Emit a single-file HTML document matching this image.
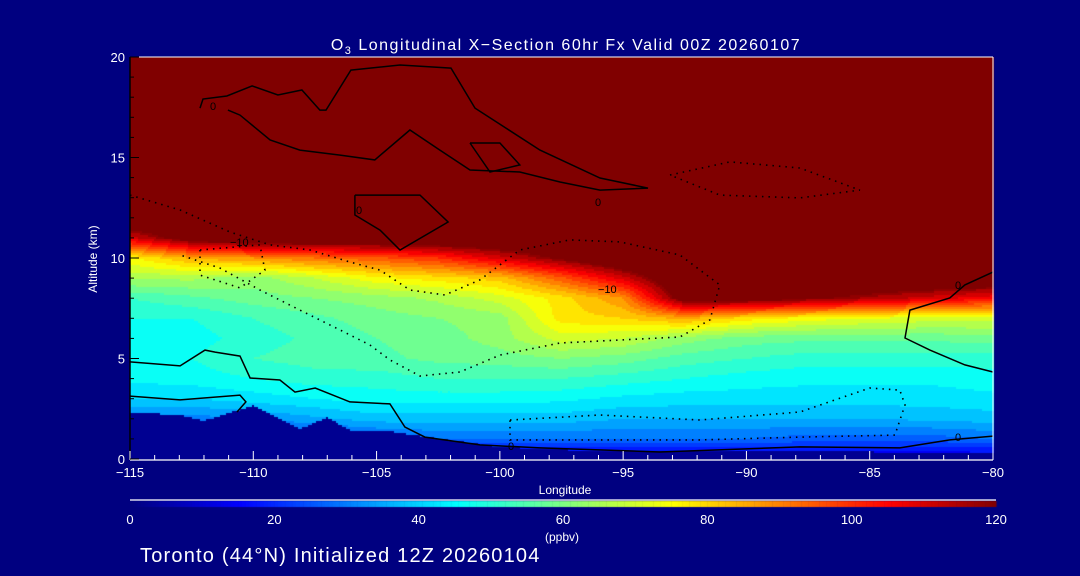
<!DOCTYPE html>
<html><head><meta charset="utf-8"><style>
html,body{margin:0;padding:0;background:#000080;}
#wrap{position:relative;width:1080px;height:576px;background:#000080;overflow:hidden;font-family:"Liberation Sans",sans-serif;color:#fff;}
canvas{position:absolute;left:0;top:0;}
svg{position:absolute;left:0;top:0;}
</style></head><body>
<div id="wrap">
<canvas id="cv" width="1080" height="576"></canvas>
<svg id="sv" width="1080" height="576"></svg>
</div>
<script>
// ---- data ----
const lons = [-115,-112.5,-110,-107.5,-105,-102.5,-100,-97.5,-95,-92.5,-90,-87.5,-85,-82.5,-80];
const alts = [0,1,2,3,4,5,6,7,8,9,10,11,12,13,20];
const row0  = [10,10,10,10,10,10,10,10,10,10,10,10,10,10,10];
const row1  = [20,20,20,22,25,28,28,28,28,28,28,26,26,26,28];
const row2  = [30,30,32,35,38,38,38,38,36,36,36,36,36,37,38];
const row3  = [40,40,42,44,46,46,46,45,43,42,42,42,42,42,43];
const row4  = [45,46,48,50,50,52,52,52,50,48,46,45,45,45,46];
const row5  = [47,48,52,54,55,57,58,60,58,54,52,50,50,50,50];
const row6  = [46,46,50,53,56,58,62,70,68,62,58,57,57,57,58];
const row7  = [48,48,52,55,58,60,62,78,80,85,78,74,72,70,70];
const row8  = [52,55,58,60,62,65,70,78,88,125,125,120,115,110,105];
const row9  = [65,65,62,68,75,78,82,95,110,130,130,130,130,130,130];
const row10 = [75,85,88,92,95,100,110,120,130,130,130,130,130,130,130];
const row11 = [110,125,130,130,130,130,130,130,130,130,130,130,130,130,130];
const row12 = [130,130,130,130,130,130,130,130,130,130,130,130,130,130,130];
const row13 = [130,130,130,130,130,130,130,130,130,130,130,130,130,130,130];
const row20 = [130,130,130,130,130,130,130,130,130,130,130,130,130,130,130];
const grid = [row0,row1,row2,row3,row4,row5,row6,row7,row8,row9,row10,row11,row12,row13,row20];
const terrainLon = [-115,-113,-112,-110,-108.1,-107,-106,-104.6,-103,-100,-97.6,-90,-85,-80];
const terrainAlt = [2.3,2.2,1.9,2.65,1.5,2.05,1.4,1.4,1.1,0.6,0.45,0.4,0.35,0.3];
const xTicks = [-115,-110,-105,-100,-95,-90,-85,-80];
const yTicks = [0,5,10,15,20];
const cbTicks = [0,20,40,60,80,100,120];
// contours (lon, alt)
const solid1Lon = [-112.16,-112.04,-111.07,-110.05,-109.0,-108.03,-107.30,-107.05,-106.04,-104.05,-101.98,-101.01,-98.37,-95.94,-93.99,-95.94,-97.56,-99.19,-101.21,-102.43,-103.65,-105.07,-106.48,-108.11,-109.32,-110.54,-111.03];
const solid1Alt = [17.46,17.91,18.06,18.56,18.11,18.36,17.36,17.36,19.35,19.60,19.45,17.46,15.37,13.98,13.48,13.38,13.78,14.28,14.38,15.37,16.37,14.88,15.12,15.37,15.87,17.11,17.36];
const solid2Lon = [-101.21,-100.0,-99.19,-100.40,-101.21];
const solid2Alt = [15.72,15.72,14.63,14.28,15.72];
const solid3Lon = [-105.88,-103.24,-102.10,-104.05,-104.86,-105.88,-105.88];
const solid3Alt = [13.13,13.13,11.79,10.40,11.39,12.14,13.13];
const solid4Lon = [-115,-112.97,-111.96,-111.55,-110.54,-110.13,-108.92,-108.31,-107.49,-106.08,-104.46,-103.85,-103.04,-100.81,-98.37,-93.51,-87.83,-83.78,-81.75,-80];
const solid4Alt = [4.83,4.63,5.42,5.32,5.12,4.03,3.93,3.33,3.53,2.84,2.74,1.59,1.09,0.70,0.55,0.35,0.60,0.55,0.95,1.14];
const solid5Lon = [-115,-112.97,-110.54,-110.30,-110.66];
const solid5Alt = [3.13,2.94,3.18,2.84,2.34];
const solid6Lon = [-80,-81.14,-81.75,-83.37,-83.57,-82.56,-81.14,-80];
const solid6Alt = [9.30,8.66,8.01,7.41,6.02,5.42,4.68,4.33];
const dot1Lon = [-115,-112.97,-110.94,-109.32,-107.70,-106.08,-104.86,-103.65,-102.23,-100.81,-99.19,-97.16,-95.13,-92.70,-91.08,-91.48,-92.70,-95.13,-97.56,-100.0,-101.62,-103.24,-104.46,-105.27,-106.48,-108.11,-109.73,-111.35,-112.97];
const dot1Alt = [13.13,12.39,11.29,10.65,10.40,9.80,9.40,8.41,8.16,8.91,10.40,10.90,10.80,10.15,8.66,6.92,6.07,5.92,5.77,5.17,4.33,4.13,4.93,5.67,6.42,7.41,8.41,9.50,10.15];
const dot2Lon = [-112.16,-109.73,-109.53,-110.54,-112.16,-112.16];
const dot2Alt = [10.40,10.65,9.40,8.51,9.15,10.40];
const dot3Lon = [-93.10,-90.67,-87.83,-85.40,-87.83,-91.08,-93.10];
const dot3Alt = [14.13,14.78,14.48,13.38,12.99,13.13,14.13];
const dot4Lon = [-99.59,-95.94,-91.89,-87.83,-85.0,-83.78,-83.57,-83.98,-87.83,-91.89,-95.94,-99.59,-99.59];
const dot4Alt = [1.94,2.19,1.94,2.34,3.53,3.43,2.69,1.19,1.09,0.95,0.95,0.95,1.94];

// ---- scales ----
const X0=130,X1=993,Y0=459,Y1=57;
function xS(lon){return X0+(lon+115)/35*(X1-X0);}
function yS(a){return Y0-a/20*(Y0-Y1);}
function cbX(v){return 130+v/120*(996-130);}
function jet(t){
  t=Math.max(0,Math.min(1,t));
  function c(x){return Math.max(0,Math.min(1,x));}
  const r=c(Math.min(4*t-1.5,-4*t+4.5)), g=c(Math.min(4*t-0.5,-4*t+3.5)), b=c(Math.min(4*t+0.5,-4*t+2.5));
  return 'rgb('+Math.round(r*255)+','+Math.round(g*255)+','+Math.round(b*255)+')';
}
function colorFor(v){const q=Math.min(120,Math.floor(v/4)*4+2);return v>=118?jet(1):jet(q/120);}
function interp1(xs,ys,x){
  if(x<=xs[0])return ys[0];
  for(let i=1;i<xs.length;i++){if(x<=xs[i]){const f=(x-xs[i-1])/(xs[i]-xs[i-1]);return ys[i-1]+f*(ys[i]-ys[i-1]);}}
  return ys[ys.length-1];
}
function idx(arr,v){let i=0;while(i<arr.length-2&&v>arr[i+1])i++;const f=Math.max(0,Math.min(1,(v-arr[i])/(arr[i+1]-arr[i])));return [i,f];}
function field(lon,alt){
  const [i,fx]=idx(lons,lon),[j,fy]=idx(alts,alt);
  const a=grid[j][i]*(1-fx)+grid[j][i+1]*fx, b=grid[j+1][i]*(1-fx)+grid[j+1][i+1]*fx;
  return a*(1-fy)+b*fy;
}
// ---- heatmap ----
const ctx=document.getElementById('cv').getContext('2d');
const step=2;
for(let px=X0;px<X1;px+=step){
  const lon=-115+(px+step/2-X0)/(X1-X0)*35;
  const ter=interp1(terrainLon,terrainAlt,lon);
  for(let py=Y1;py<Y0;py+=step){
    const alt=(Y0-(py+step/2))/(Y0-Y1)*20;
    const v = alt<ter ? 0 : field(lon,alt);
    ctx.fillStyle=colorFor(v);
    ctx.fillRect(px,py,step,step);
  }
}
// colorbar
for(let v=0;v<120;v+=0.5){ctx.fillStyle=jet(v/120);ctx.fillRect(cbX(v),501,cbX(v+0.5)-cbX(v)+0.5,6);}

// ---- SVG overlay ----
const NS='http://www.w3.org/2000/svg';
const sv=document.getElementById('sv');
function mk(tag,attrs,parent){const e=document.createElementNS(NS,tag);for(const k in attrs)e.setAttribute(k,attrs[k]);(parent||sv).appendChild(e);return e;}
function contour(lx,ly,dotted,name){
  const pts=lx.map((l,i)=>xS(l).toFixed(1)+','+yS(ly[i]).toFixed(1)).join(' ');
  const p=mk('polyline',{points:pts,fill:'none',stroke:'#000','stroke-width':dotted?1.6:1.5,'stroke-dasharray':dotted?'1.5,5':'none'});
  
  
}
contour(solid1Lon,solid1Alt,false,'contour-0-upper');
contour(solid2Lon,solid2Alt,false,'contour-0-loop-a');
contour(solid3Lon,solid3Alt,false,'contour-0-loop-b');
contour(solid4Lon,solid4Alt,false,'contour-0-lower');
contour(solid5Lon,solid5Alt,false,'contour-0-terrain');
contour(solid6Lon,solid6Alt,false,'contour-0-right');
contour(dot1Lon,dot1Alt,true,'contour-neg10-main');
contour(dot2Lon,dot2Alt,true,'contour-neg10-left');
contour(dot3Lon,dot3Alt,true,'contour-neg-upper-right');
contour(dot4Lon,dot4Alt,true,'contour-neg-lower');
function txt(x,y,s,attrs,name){const t=mk('text',Object.assign({x:x,y:y,fill:'#fff','font-family':'Liberation Sans, sans-serif','font-size':13},attrs||{}));t.textContent=s;return t;}
// contour labels
txt(210,110,'0',{fill:'#000','font-size':11},'contour-label');
txt(595,206,'0',{fill:'#000','font-size':11},'contour-label');
txt(356,214,'0',{fill:'#000','font-size':11},'contour-label');
txt(230,246,'−10',{fill:'#000','font-size':11},'contour-label');
txt(598,293,'−10',{fill:'#000','font-size':11},'contour-label');
txt(955,289,'0',{fill:'#000','font-size':11},'contour-label');
txt(508,450,'0',{fill:'#000','font-size':11},'contour-label');
txt(955,441,'0',{fill:'#000','font-size':11},'contour-label');
// frame
mk('line',{x1:X0,y1:Y1,x2:X1,y2:Y1,stroke:'#fff','stroke-width':1});
mk('line',{x1:X1,y1:Y1,x2:X1,y2:Y0+1,stroke:'#fff','stroke-width':1});
mk('line',{x1:X0,y1:Y0+1,x2:X1,y2:Y0+1,stroke:'#fff','stroke-width':1.2});
mk('line',{x1:X0,y1:Y1,x2:X0,y2:Y0+1,stroke:'#000','stroke-width':1.5});
// x ticks
for(let l=-115;l<=-80;l++){
  const major=(l%5===0);
  mk('line',{x1:xS(l),y1:Y0+1,x2:xS(l),y2:Y0+1-(major?9:5),stroke:'#fff','stroke-width':1});
}
xTicks.forEach(l=>{txt(xS(l),477,(l<0?'−':'')+Math.abs(l),{'text-anchor':'middle'},'x-tick-label');});
// y ticks
for(let a=0;a<=20;a++){
  const major=(a%5===0);
  mk('line',{x1:X0,y1:yS(a),x2:X0+(major?9:4),y2:yS(a),stroke:'#000','stroke-width':1});
}
yTicks.forEach(a=>{txt(125,yS(a)+5,String(a),{'text-anchor':'end'},'y-tick-label');});
txt(565,494,'Longitude',{'text-anchor':'middle','font-size':12},'x-axis-title');
txt(97,259,'Altitude (km)',{'text-anchor':'middle','font-size':12,transform:'rotate(-90 97 259)'},'y-axis-title');
// title
const tt=mk('text',{x:566,y:50,fill:'#fff','font-family':'Liberation Sans, sans-serif','font-size':16,'letter-spacing':1.5,'text-anchor':'middle'});

tt.innerHTML='O<tspan font-size="11" dy="4">3</tspan><tspan dy="-4"> Longitudinal X−Section 60hr  Fx Valid 00Z 20260107</tspan>';
// colorbar
mk('line',{x1:130,y1:500,x2:996,y2:500,stroke:'#fff','stroke-width':1.2});
cbTicks.forEach(v=>{txt(cbX(v),524,String(v),{'text-anchor':'middle'},'colorbar-tick-label');});
txt(562,541,'(ppbv)',{'text-anchor':'middle','font-size':12},'colorbar-unit');
txt(140,562,'Toronto (44°N) Initialized 12Z 20260104',{'font-size':20,'letter-spacing':1.2},'footer-caption');
</script>
</body></html>
